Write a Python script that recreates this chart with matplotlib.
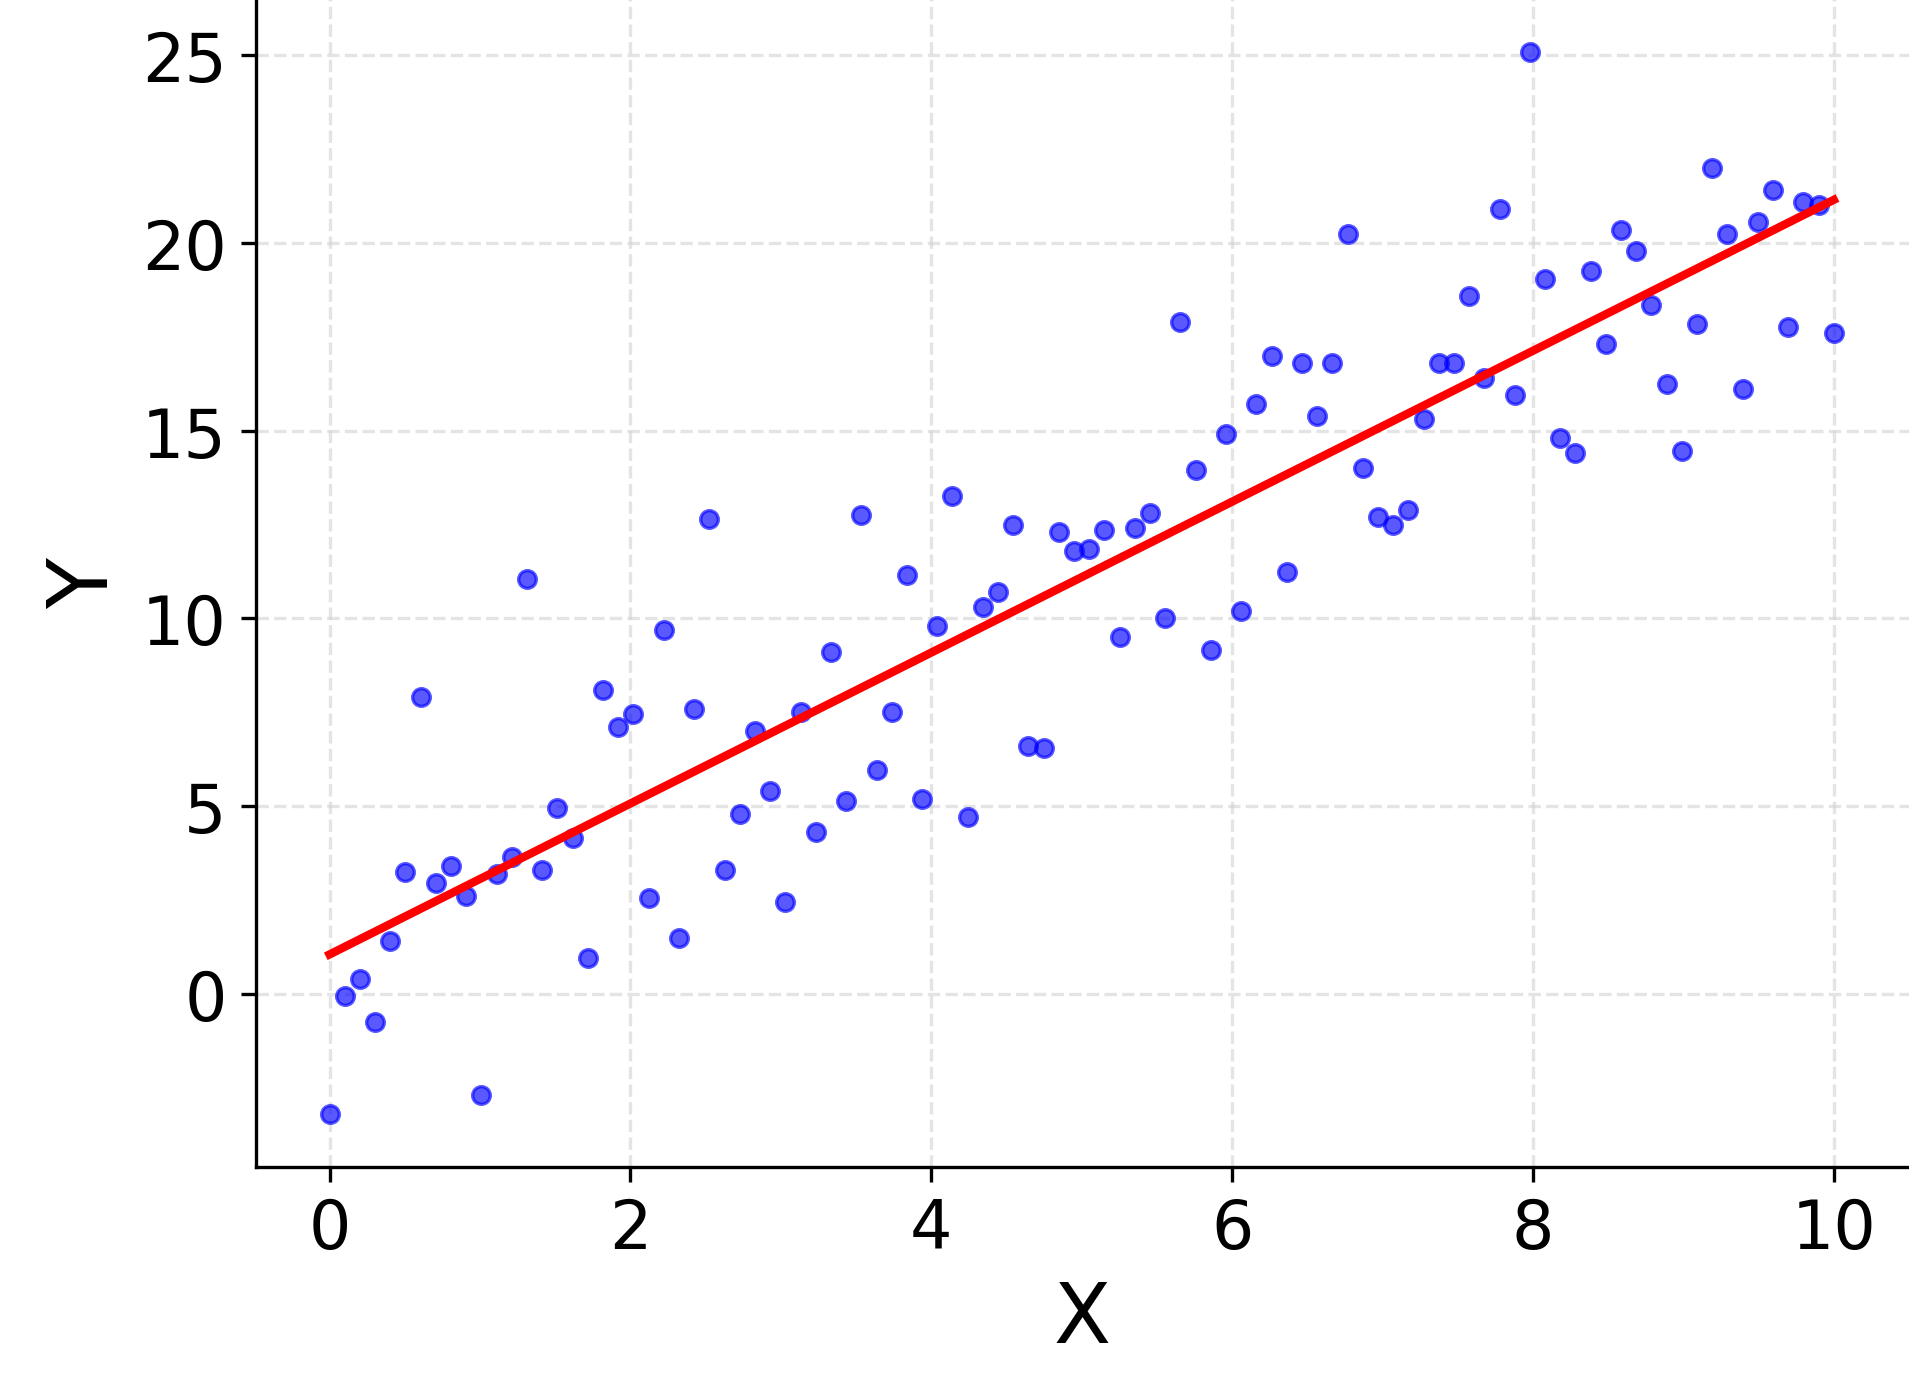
import numpy as np
import matplotlib
matplotlib.use("Agg")
import matplotlib.pyplot as plt

x = np.linspace(0, 10, 100)
y = [-3.2,-0.05,0.4,-0.75,1.4,3.25,7.9,2.95,3.4,2.6,
     -2.7,3.2,3.65,11.05,3.3,4.95,4.15,0.95,8.1,7.1,
     7.45,2.55,9.7,1.5,7.6,12.65,3.3,4.8,7.0,5.4,
     2.45,7.5,4.3,9.1,5.15,12.75,5.95,7.5,11.15,5.2,
     9.8,13.25,4.7,10.3,10.7,12.5,6.6,6.55,12.3,11.8,
     11.85,12.35,9.5,12.4,12.8,10.0,17.9,13.95,9.15,14.9,
     10.2,15.7,17.0,11.25,16.8,15.4,16.8,20.25,14.0,12.7,
     12.5,12.9,15.3,16.8,16.8,18.6,16.4,20.9,15.95,25.1,
     19.05,14.8,14.4,19.25,17.3,20.35,19.8,18.35,16.25,14.45,
     17.85,22.0,20.25,16.1,20.55,21.4,17.75,21.1,21.0,17.6]
y = np.array(y)
slope, intercept = 2.01, 1.05

fig = plt.figure(figsize=(1909/300, 1385/300), dpi=300)
ax = fig.add_axes([0.134, 0.157, 0.866, 0.843])
ax.scatter(x, y, s=18, color='blue', alpha=0.65, edgecolors='blue', linewidths=0.8, zorder=3)
ax.plot(x, slope*x + intercept, color='red', lw=2, zorder=4)
ax.set_xlim(-0.49, 10.5)
ax.set_ylim(-4.6, 26.5)
ax.set_xticks([0,2,4,6,8,10])
ax.set_yticks([0,5,10,15,20,25])
ax.tick_params(labelsize=16)
ax.set_xlabel('X', fontsize=20)
ax.set_ylabel('Y', fontsize=20)
ax.grid(True, ls='--', color='lightgray', alpha=0.6, lw=0.8)
ax.spines['top'].set_visible(False)
ax.spines['right'].set_visible(False)
fig.savefig('out.png', dpi=300)
